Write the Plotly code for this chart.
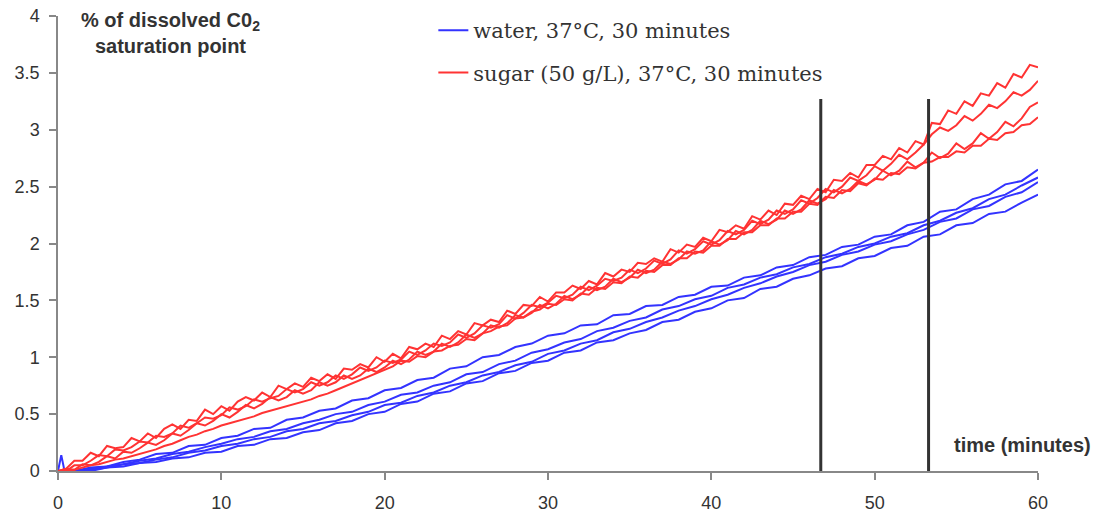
import plotly.graph_objects as go

# ---------------- data ----------------
red_time = [i * 0.5 for i in range(121)]
red_run1 = [0.00,0.02,0.09,0.09,0.16,0.13,0.22,0.20,0.21,0.29,0.26,0.33,0.29,0.37,0.41,0.37,0.45,0.44,0.54,0.50,
            0.57,0.53,0.61,0.65,0.62,0.69,0.65,0.75,0.72,0.77,0.74,0.82,0.79,0.85,0.81,0.90,0.89,0.94,0.91,1.00,
            0.96,1.03,0.99,1.09,1.07,1.12,1.09,1.19,1.16,1.23,1.20,1.30,1.28,1.33,1.31,1.41,1.38,1.46,1.45,1.53,
            1.49,1.57,1.57,1.63,1.60,1.67,1.64,1.74,1.71,1.77,1.75,1.83,1.82,1.87,1.84,1.95,1.92,1.99,1.97,2.05,
            2.02,2.12,2.10,2.16,2.13,2.24,2.21,2.29,2.25,2.35,2.34,2.42,2.39,2.48,2.45,2.56,2.55,2.62,2.58,2.69,
            2.69,2.77,2.74,2.84,2.80,2.90,2.87,3.06,3.05,3.17,3.14,3.25,3.21,3.32,3.30,3.41,3.37,3.49,3.46,3.57,
            3.55]
red_run2 = [0.00,0.00,0.05,0.05,0.09,0.14,0.13,0.19,0.18,0.21,0.26,0.25,0.31,0.30,0.33,0.40,0.38,0.42,0.47,0.46,
            0.49,0.56,0.54,0.57,0.63,0.61,0.64,0.66,0.72,0.69,0.72,0.78,0.75,0.78,0.84,0.81,0.85,0.91,0.88,0.91,
            0.97,0.95,0.98,1.05,1.02,1.06,1.12,1.10,1.13,1.20,1.17,1.21,1.28,1.26,1.29,1.37,1.34,1.39,1.46,1.44,
            1.48,1.54,1.52,1.55,1.62,1.59,1.63,1.69,1.67,1.70,1.77,1.74,1.78,1.85,1.82,1.86,1.94,1.91,1.95,2.02,
            1.99,2.03,2.11,2.08,2.12,2.20,2.17,2.21,2.29,2.26,2.30,2.38,2.35,2.40,2.48,2.45,2.50,2.58,2.55,2.60,
            2.68,2.64,2.70,2.78,2.74,2.80,2.87,2.96,3.02,2.99,3.04,3.12,3.08,3.14,3.22,3.19,3.25,3.33,3.30,3.35,
            3.43]
red_run3 = [0.00,0.02,0.01,0.06,0.05,0.08,0.13,0.11,0.17,0.16,0.20,0.25,0.23,0.27,0.33,0.31,0.36,0.42,0.40,0.44,
            0.50,0.47,0.52,0.58,0.55,0.59,0.65,0.62,0.65,0.71,0.68,0.71,0.78,0.75,0.78,0.84,0.81,0.84,0.90,0.87,
            0.91,0.97,0.94,0.98,1.05,1.02,1.05,1.12,1.09,1.13,1.20,1.17,1.21,1.28,1.26,1.30,1.37,1.35,1.39,1.46,
            1.43,1.47,1.54,1.51,1.55,1.62,1.59,1.62,1.69,1.66,1.70,1.77,1.74,1.77,1.84,1.82,1.86,1.93,1.91,1.94,
            2.02,1.99,2.03,2.11,2.08,2.12,2.20,2.17,2.21,2.29,2.26,2.30,2.38,2.35,2.39,2.47,2.44,2.48,2.55,2.52,
            2.56,2.64,2.60,2.64,2.72,2.67,2.71,2.80,2.75,2.79,2.88,2.83,2.88,2.97,2.92,2.98,3.07,3.03,3.10,3.20,
            3.24]
red_run4 = [0.00,0.00,0.01,0.03,0.05,0.06,0.08,0.10,0.11,0.13,0.15,0.17,0.19,0.22,0.24,0.27,0.30,0.32,0.35,0.37,
            0.40,0.42,0.44,0.46,0.48,0.51,0.53,0.55,0.57,0.59,0.61,0.63,0.66,0.68,0.71,0.74,0.77,0.80,0.83,0.86,
            0.89,0.92,0.97,0.96,1.01,1.00,1.05,1.06,1.10,1.11,1.16,1.15,1.21,1.23,1.27,1.28,1.34,1.35,1.40,1.42,
            1.47,1.46,1.51,1.50,1.56,1.55,1.61,1.60,1.66,1.65,1.71,1.70,1.76,1.75,1.81,1.81,1.87,1.87,1.93,1.92,
            1.98,1.98,2.04,2.04,2.10,2.10,2.16,2.16,2.22,2.22,2.28,2.28,2.35,2.34,2.41,2.40,2.47,2.46,2.53,2.51,
            2.57,2.56,2.62,2.61,2.67,2.66,2.71,2.72,2.76,2.76,2.81,2.80,2.86,2.86,2.92,2.91,2.97,2.98,3.04,3.05,
            3.11]

blue_time = [0, 0.2, 0.4] + list(range(1, 61))
blue_run1 = [0.00,0.14,0.00,
             0.00,0.03,0.04,0.08,0.10,0.15,0.16,0.22,0.23,0.29,0.31,0.37,0.38,0.45,0.47,0.53,0.55,0.62,0.64,0.71,
             0.73,0.80,0.82,0.90,0.92,1.00,1.02,1.09,1.12,1.19,1.21,1.28,1.29,1.37,1.38,1.45,1.46,1.53,1.55,1.62,
             1.63,1.70,1.72,1.79,1.81,1.88,1.90,1.97,1.99,2.06,2.08,2.16,2.19,2.28,2.30,2.39,2.43,2.52,2.55,2.65]
blue_run2 = [0.00,0.00,0.00,
             0.00,0.02,0.04,0.06,0.09,0.11,0.15,0.17,0.21,0.24,0.28,0.30,0.35,0.37,0.42,0.45,0.50,0.52,0.58,0.61,
             0.67,0.69,0.75,0.78,0.85,0.87,0.94,0.97,1.04,1.07,1.13,1.16,1.23,1.26,1.32,1.35,1.42,1.45,1.51,1.54,
             1.61,1.64,1.70,1.73,1.79,1.82,1.88,1.91,1.97,2.00,2.06,2.09,2.16,2.20,2.27,2.31,2.39,2.43,2.51,2.58]
blue_run3 = [0.00,0.00,0.00,
             0.00,0.01,0.03,0.06,0.07,0.10,0.12,0.16,0.18,0.22,0.24,0.28,0.30,0.35,0.37,0.42,0.44,0.49,0.52,0.58,
             0.60,0.66,0.69,0.75,0.78,0.84,0.87,0.93,0.96,1.03,1.06,1.12,1.15,1.22,1.25,1.31,1.35,1.41,1.45,1.51,
             1.55,1.61,1.65,1.71,1.75,1.81,1.84,1.90,1.93,1.99,2.02,2.08,2.12,2.19,2.22,2.30,2.33,2.41,2.45,2.54]
blue_run4 = [0.00,0.00,0.00,
             0.00,0.00,0.03,0.04,0.07,0.08,0.11,0.12,0.16,0.17,0.22,0.23,0.28,0.29,0.34,0.36,0.42,0.44,0.50,0.52,
             0.59,0.61,0.68,0.70,0.77,0.79,0.86,0.88,0.95,0.97,1.04,1.06,1.13,1.15,1.21,1.24,1.31,1.33,1.40,1.43,
             1.50,1.52,1.60,1.62,1.69,1.72,1.78,1.80,1.87,1.89,1.96,1.98,2.06,2.08,2.16,2.18,2.26,2.28,2.36,2.43]

marker_times = [46.7, 53.3]
marker_top = 3.27

x_ticks = [0, 10, 20, 30, 40, 50, 60]
y_ticks = [0, 0.5, 1, 1.5, 2, 2.5, 3, 3.5, 4]

series_names = ["water, 37°C, 30 minutes", "sugar (50 g/L), 37°C, 30 minutes"]
y_title = "<b>% of dissolved C0<sub>2</sub><br>saturation point</b>"
x_title = "<b>time (minutes)</b>"

BLUE = "#3333ff"
RED = "#ff3333"
INK = "#333333"

fig = go.Figure()

for i, run in enumerate([blue_run1, blue_run2, blue_run3, blue_run4]):
    fig.add_trace(go.Scatter(
        x=blue_time, y=run, mode="lines",
        line=dict(color=BLUE, width=2),
        name=series_names[0], legendgroup="water", showlegend=(i == 0),
        legendrank=1,
    ))
for i, run in enumerate([red_run1, red_run2, red_run3, red_run4]):
    fig.add_trace(go.Scatter(
        x=red_time, y=run, mode="lines",
        line=dict(color=RED, width=2),
        name=series_names[1], legendgroup="sugar", showlegend=(i == 0),
        legendrank=2,
    ))

for t in marker_times:
    fig.add_shape(type="line", xref="x", yref="y", x0=t, x1=t, y0=0, y1=marker_top,
                  line=dict(color=INK, width=3))

fig.add_annotation(xref="paper", yref="paper", x=0.115, y=0.963, xanchor="center", yanchor="middle",
                   text=y_title, showarrow=False, align="center",
                   font=dict(family="Liberation Sans, Arial", size=20, color=INK))
fig.add_annotation(xref="paper", yref="paper", x=1.056, y=0.057, xanchor="right", yanchor="middle",
                   text=x_title, showarrow=False,
                   font=dict(family="Liberation Sans, Arial", size=20, color=INK))

axis_common = dict(showgrid=False, zeroline=False, showline=True, linecolor="#888888", linewidth=1.5,
                   ticks="outside", ticklen=7, tickcolor="#888888", tickwidth=1.5,
                   ticklabeloverflow="allow",
                   tickfont=dict(family="Liberation Sans, Arial", size=18, color=INK))

fig.update_xaxes(range=[0, 60], tickvals=x_ticks, ticktext=[str(v) for v in x_ticks],
                 ticklabelstandoff=8, **axis_common)
fig.update_yaxes(range=[0, 4], tickvals=y_ticks, ticktext=[f"{v:g}" for v in y_ticks],
                 ticklabelstandoff=6, **axis_common)

fig.update_layout(
    width=1102, height=512,
    margin=dict(l=50, r=72, t=8, b=49, autoexpand=False),
    plot_bgcolor="white", paper_bgcolor="white",
    showlegend=True,
    legend=dict(x=0.383, y=1.013, xanchor="left", yanchor="top",
                font=dict(family="DejaVu Serif", size=21, color=INK),
                traceorder="grouped", tracegroupgap=12, bgcolor="rgba(0,0,0,0)",
                itemwidth=30),
)

fig.write_html("out.html")
